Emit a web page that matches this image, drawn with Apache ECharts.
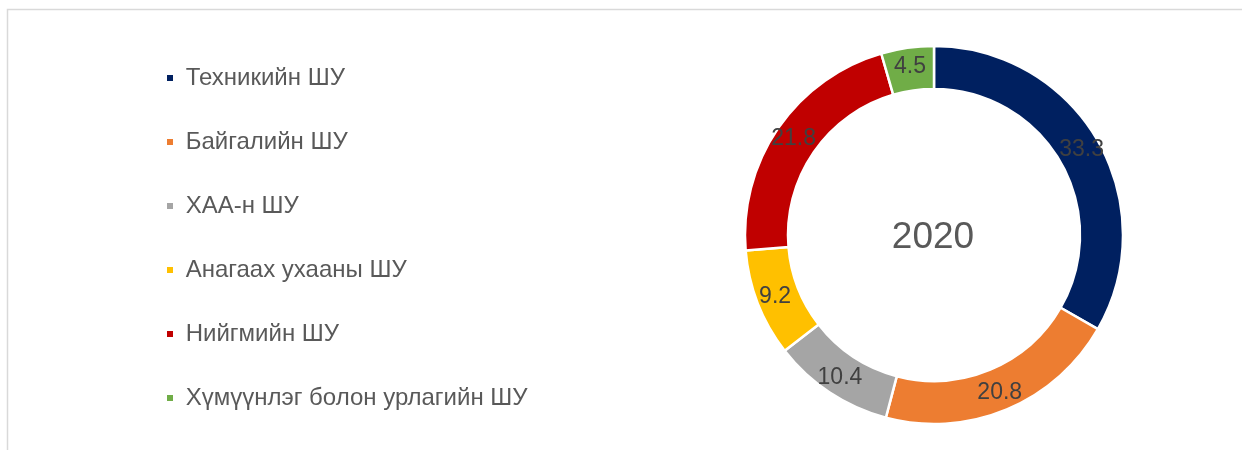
<html><head>
<meta charset="UTF-8">
<title>2020</title>
<style>
  html, body { margin: 0; padding: 0; background: #fff; }
  #chart { width: 1242px; height: 450px; }
</style>
</head>
<body>
  <div id="chart"></div>
  <script src="https://cdn.jsdelivr.net/npm/echarts@6/dist/echarts.min.js"></script>
  <script>
    // салбарууд ба хувь
    const categories = ['Техникийн ШУ', 'Байгалийн ШУ', 'ХАА-н ШУ', 'Анагаах ухааны ШУ', 'Нийгмийн ШУ', 'Хүмүүнлэг болон урлагийн ШУ'];
    const values = [33.3, 20.8, 10.4, 9.2, 21.8, 4.5];
    const colors = ['#002060', '#ED7D31', '#A5A5A5', '#FFC000', '#C00000', '#70AD47'];
    const centerLabel = '2020';

    const chart = echarts.init(document.getElementById('chart'));
    const font = '"Liberation Sans", Arial, sans-serif';

    chart.setOption({
      animation: false,
      color: colors,
      textStyle: { fontFamily: font },
      legend: {
        orient: 'vertical',
        left: 160,
        top: 61,
        icon: 'rect',
        itemWidth: 8,
        itemHeight: 8,
        itemGap: 40,
        formatter: name => ' ' + name,
        textStyle: { fontSize: 24, lineHeight: 24, color: '#595959', fontFamily: font },
        data: categories
      },
      graphic: [
        {
          type: 'rect',
          silent: true,
          shape: { x: 7.5, y: 9.5, width: 1300, height: 500 },
          style: { fill: 'none', stroke: '#d9d9d9', lineWidth: 1.5 }
        },
        {
          type: 'text',
          silent: true,
          x: 933,
          y: 238,
          style: {
            text: centerLabel,
            fontSize: 37,
            fontFamily: font,
            fill: '#595959',
            textAlign: 'center',
            textVerticalAlign: 'middle'
          }
        }
      ],
      series: [{
        type: 'pie',
        center: [934, 235],
        radius: [146, 189],
        startAngle: 90,
        clockwise: true,
        avoidLabelOverlap: false,
        itemStyle: { borderColor: '#fff', borderWidth: 2.5 },
        label: {
          show: true,
          position: 'inside',
          fontSize: 23,
          color: '#404040',
          fontFamily: font,
          formatter: p => p.value.toFixed(1)
        },
        labelLine: { show: false },
        data: categories.map((c, i) => ({ name: c, value: values[i] }))
      }]
    });
  </script>
</body></html>
